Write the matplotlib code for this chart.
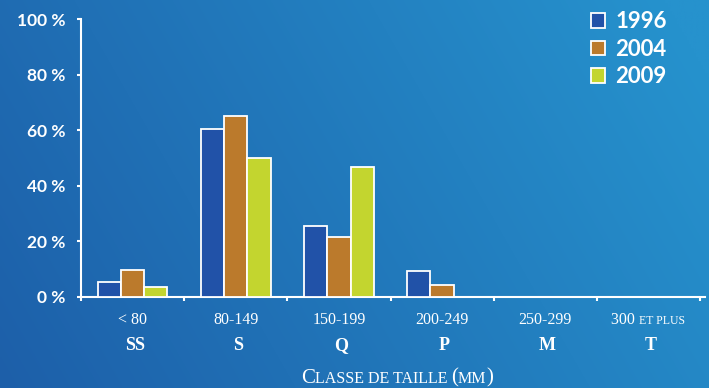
import matplotlib
matplotlib.use("Agg")
import matplotlib.pyplot as plt
import numpy as np
from matplotlib.offsetbox import TextArea, HPacker, AnnotationBbox
from matplotlib.patches import Patch

# ---- data ----
ranges = ["< 80", "80-149", "150-199", "200-249", "250-299", "300 et plus"]
codes = ["SS", "S", "Q", "P", "M", "T"]
years = ["1996", "2004", "2009"]
v1996 = [5.2, 60.3, 25.6, 9.1, 0, 0]
v2004 = [9.5, 65.1, 21.6, 4.3, 0, 0]
v2009 = [3.4, 49.8, 46.6, 0, 0, 0]
yticks = [0, 20, 40, 60, 80, 100]
xlabel = "Classe de taille (mm)"

colors = ["#2152a8", "#bb7a2c", "#c3d52f"]
W, H = 709, 388
fig = plt.figure(figsize=(W / 100, H / 100), dpi=100)

# background gradient
bg = fig.add_axes([0, 0, 1, 1], zorder=-10)
xx, yy = np.meshgrid(np.linspace(0, 1, 300), np.linspace(1, 0, 200))
t = np.clip(0.8 * xx + 0.25 * yy, 0, 1)
c0 = np.array([29, 95, 169]) / 255
c1 = np.array([38, 146, 205]) / 255
img = c0[None, None, :] * (1 - t[..., None]) + c1[None, None, :] * t[..., None]
bg.imshow(img, aspect="auto", extent=[0, 1, 0, 1], interpolation="bilinear")
bg.axis("off")

left, right = 81 / W, 700 / W
bottom, top = 1 - 296.7 / H, 1 - 19 / H
ax = fig.add_axes([left, bottom, right - left, top - bottom])
ax.patch.set_alpha(0)

n = len(ranges)
x = np.arange(n) + 0.5
bw = 0.225
series = [v1996, v2004, v2009]
for k, (vals, col, yr) in enumerate(zip(series, colors, years)):
    ax.bar(x + (k - 1) * bw, vals, width=bw, color=col, edgecolor="white",
           linewidth=1.3, label=yr, zorder=3)

ax.set_xlim(0, n)
ax.set_ylim(0, 100)
for s in ["top", "right"]:
    ax.spines[s].set_visible(False)
for s in ["left", "bottom"]:
    ax.spines[s].set_color("white")
    ax.spines[s].set_linewidth(1.5)
ax.spines["bottom"].set_bounds(0, n + 0.05)
ax.set_yticks(yticks)
ax.set_yticklabels([f"{v} %" for v in yticks])
ax.set_xticks(np.arange(n + 1))
ax.set_xticklabels([])
ax.tick_params(axis="both", colors="white", width=1.5, length=3)
ax.tick_params(axis="y", pad=8)
for lab in ax.get_yticklabels():
    lab.set_fontfamily("Lato")
    lab.set_fontweight("bold")
    lab.set_fontsize(12.5)
    lab.set_color("white")

serif = "Liberation Serif"

def smallcaps(text, big, small, weight="normal"):
    runs = []
    cur = ""
    cur_big = None
    for ch in text:
        is_big = not ch.islower()
        if ch == " ":
            is_big = cur_big if cur_big is not None else True
        if cur_big is None or is_big == cur_big:
            cur += ch
            cur_big = is_big
        else:
            runs.append((cur, cur_big))
            cur, cur_big = ch, is_big
    runs.append((cur, cur_big))
    boxes = []
    for r, b in runs:
        boxes.append(TextArea(r.upper(), textprops=dict(
            color="white", family=serif, size=big if b else small,
            weight=weight)))
    return HPacker(children=boxes, align="baseline", pad=0, sep=0)

trans = ax.get_xaxis_transform()
for xi, r, c in zip(x, ranges, codes):
    box = smallcaps(r, 11.5, 8.5)
    ab = AnnotationBbox(box, (xi, -0.0857), xycoords=trans, frameon=False,
                        box_alignment=(0.5, 0.5), annotation_clip=False)
    ax.add_artist(ab)
    ax.text(xi + 0.02, -0.1775, c, transform=trans, ha="center", va="center",
            color="white", family=serif, fontsize=13, fontweight="bold")

box = smallcaps(xlabel, 15, 11.5)
ab = AnnotationBbox(box, (397 / W, 1 - 378 / H), xycoords="figure fraction",
                    frameon=False, box_alignment=(0.5, 0.5), annotation_clip=False)
fig.add_artist(ab)

handles = [Patch(facecolor=c, edgecolor="white", linewidth=1.3) for c in colors]
leg = fig.legend(handles, years, loc="upper left",
                 bbox_to_anchor=(579.5 / W, 1 - 0 / H), frameon=False,
                 prop=dict(family="Lato", weight="bold", size=16),
                 handlelength=0.65, handleheight=0.65, handletextpad=0.45,
                 labelspacing=0.3, borderpad=0.0)
for tx in leg.get_texts():
    tx.set_color("white")

fig.savefig("out.png", dpi=100)
